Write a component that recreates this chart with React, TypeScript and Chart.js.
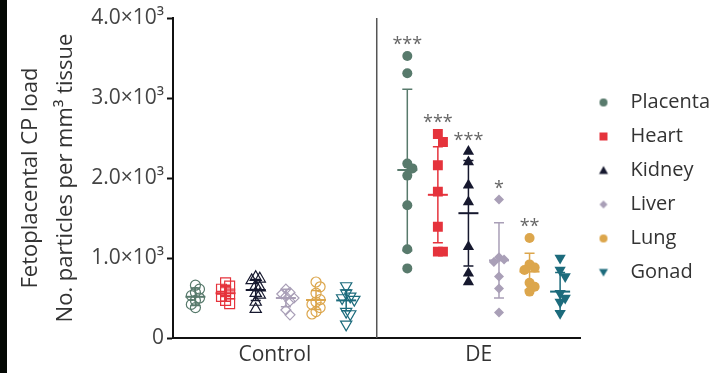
import React, { useEffect, useRef } from 'react';
import { Chart, registerables } from 'chart.js';

Chart.register(...registerables);

// ---------- data ----------
const categories = ['Control', 'DE'];
const organs = ['Placenta', 'Heart', 'Kidney', 'Liver', 'Lung', 'Gonad'];
const yTickValues = [0, 1000, 2000, 3000, 4000];
const yTickLabels = ['0', '1.0×10³', '2.0×10³', '3.0×10³', '4.0×10³'];

const placentaControl = [660, 610, 570, 530, 500, 470, 420, 380];
const heartControl = [690, 650, 610, 580, 550, 520, 470, 430];
const kidneyControl = [760, 740, 720, 650, 630, 560, 540, 450, 360];
const liverControl = [610, 570, 550, 520, 500, 460, 350, 290];
const lungControl = [700, 640, 560, 480, 450, 420, 380, 330, 300];
const gonadControl = [650, 560, 520, 500, 480, 330, 300, 170];

const placentaDE = [3525, 3310, 2180, 2120, 2030, 1660, 1110, 870];
const heartDE = [2550, 2450, 2160, 1830, 1390, 1080, 1080];
const kidneyDE = [2330, 2200, 1910, 1700, 1140, 810, 700];
const liverDE = [1730, 1010, 980, 950, 770, 620, 320];
const lungDE = [1250, 920, 880, 850, 690, 640, 580];
const gonadDE = [1000, 850, 770, 560, 500, 450, 310];

const controlMeans = [515, 560, 600, 500, 475, 470];
const controlSD = [110, 100, 130, 110, 120, 130];
const deMeans = [2100, 1790, 1560, 970, 830, 580];
const deSD = [1010, 600, 660, 470, 230, 240];
const deStars = ['***', '***', '***', '*', '**', ''];

// ---------- styles / layout ----------
const FONT = "'Open Sans', 'Noto Sans', sans-serif";
const organColors = ['#587a6c', '#e5333c', '#16182e', '#a99fb7', '#dca64c', '#1c6b7c'];
const organShapes = ['circle', 'rect', 'triangle', 'rectRot', 'circle', 'triangle'];
const organRotation = [0, 0, 0, 0, 0, 180];
const organRadius = [5, 7, 6.5, 5, 5, 6.5];
const groupStart = [0.11, 0.15];
const groupStep = [0.148, 0.15];
const LEGEND_SHIFT = -8;

function dodge(values: number[], base: number, thr: number, step: number) {
  const sorted = values.map((v, i) => ({ v, i })).sort((a, b) => b.v - a.v);
  const placed: { v: number; k: number }[] = [];
  const out: { x: number; y: number }[] = new Array(values.length);
  for (const p of sorted) {
    for (const k of [0, 1, -1, 2, -2, 3, -3]) {
      if (!placed.some((q) => q.k === k && Math.abs(q.v - p.v) < thr)) {
        placed.push({ v: p.v, k });
        out[p.i] = { x: base + k * step, y: p.v };
        break;
      }
    }
  }
  return out;
}

function makeIcon(oi: number) {
  const c = document.createElement('canvas');
  c.width = 20;
  c.height = 14;
  const g = c.getContext('2d')!;
  g.fillStyle = organColors[oi];
  g.beginPath();
  const cx = 6, cy = 7;
  const shape = organShapes[oi];
  if (shape === 'circle') {
    g.arc(cx, cy, 4, 0, Math.PI * 2);
  } else if (shape === 'rect') {
    g.rect(cx - 4, cy - 4, 8, 8);
  } else if (shape === 'rectRot') {
    g.moveTo(cx, cy - 4); g.lineTo(cx + 4, cy); g.lineTo(cx, cy + 4); g.lineTo(cx - 4, cy);
  } else if (organRotation[oi] === 180) {
    g.moveTo(cx - 4.5, cy - 3.5); g.lineTo(cx + 4.5, cy - 3.5); g.lineTo(cx, cy + 4);
  } else {
    g.moveTo(cx, cy - 4.5); g.lineTo(cx + 4.5, cy + 3.5); g.lineTo(cx - 4.5, cy + 3.5);
  }
  g.closePath();
  g.fill();
  return c;
}

const controlSeries = [placentaControl, heartControl, kidneyControl, liverControl, lungControl, gonadControl];
const deSeries = [placentaDE, heartDE, kidneyDE, liverDE, lungDE, gonadDE];

const errorBarPlugin = {
  id: 'errorBars',
  afterLayout(chart: any) {
    const l = chart.legend;
    if (l) {
      l.top += LEGEND_SHIFT;
      l.bottom += LEGEND_SHIFT;
    }
  },
  beforeDatasetsDraw(chart: any) {
    const { ctx, scales } = chart;
    const xs = scales.x, ys = scales.y;
    const sets = [
      { means: controlMeans, sds: controlSD },
      { means: deMeans, sds: deSD },
    ];
    ctx.save();
    sets.forEach((s, gi) => {
      organs.forEach((_, oi) => {
        const cx = xs.getPixelForValue(gi + groupStart[gi] + oi * groupStep[gi]);
        const m = ys.getPixelForValue(s.means[oi]);
        const top = ys.getPixelForValue(s.means[oi] + s.sds[oi]);
        const bot = ys.getPixelForValue(s.means[oi] - s.sds[oi]);
        ctx.strokeStyle = organColors[oi];
        ctx.lineWidth = 1.5;
        ctx.beginPath();
        ctx.moveTo(cx, top); ctx.lineTo(cx, bot);
        ctx.moveTo(cx - 5, top); ctx.lineTo(cx + 5, top);
        ctx.moveTo(cx - 5, bot); ctx.lineTo(cx + 5, bot);
        ctx.stroke();
        ctx.lineWidth = 2;
        ctx.beginPath();
        ctx.moveTo(cx - 10, m); ctx.lineTo(cx + 10, m);
        ctx.stroke();
      });
    });
    ctx.restore();
  },
  afterDatasetsDraw(chart: any) {
    const { ctx, scales } = chart;
    const xs = scales.x, ys = scales.y;
    ctx.save();
    ctx.fillStyle = '#666';
    ctx.font = `18px ${FONT}`;
    ctx.textAlign = 'center';
    ctx.textBaseline = 'alphabetic';
    organs.forEach((_, oi) => {
      if (!deStars[oi]) return;
      const cx = xs.getPixelForValue(1 + groupStart[1] + oi * groupStep[1]);
      const cy = ys.getPixelForValue(Math.max(...deSeries[oi])) - 16;
      ctx.fillText(deStars[oi], cx, cy + 10);
    });
    ctx.restore();
  },
};

export default function App() {
  const ref = useRef<HTMLCanvasElement>(null);
  useEffect(() => {
    if (!ref.current) return;
    const icons = organs.map((_, oi) => makeIcon(oi));
    const datasets: any[] = [
      {
        label: 'divider',
        data: [{ x: 1, y: 0 }, { x: 1, y: 4000 }],
        showLine: true,
        borderColor: '#555',
        borderWidth: 1.5,
        pointRadius: 0,
      },
    ];
    [controlSeries, deSeries].forEach((series, gi) => {
      series.forEach((vals, oi) => {
        const base = gi + groupStart[gi] + oi * groupStep[gi];
        datasets.push({
          label: `${organs[oi]} ${categories[gi]}`,
          data: gi === 0 ? dodge(vals, base, 90, 0.02) : dodge(vals, base, 110, 0.025),
          pointStyle: organShapes[oi],
          rotation: organRotation[oi],
          pointRadius: organRadius[oi],
          pointHoverRadius: organRadius[oi],
          backgroundColor: gi === 0 ? 'rgba(255,255,255,0)' : organColors[oi],
          borderColor: organColors[oi],
          borderWidth: gi === 0 ? 1.2 : 0,
        });
      });
    });

    const chart = new Chart(ref.current, {
      type: 'scatter',
      data: { datasets },
      plugins: [errorBarPlugin],
      options: {
        animation: false,
        responsive: false,
        layout: { padding: { left: 8, top: 18, right: 0, bottom: 0 } },
        plugins: {
          tooltip: { enabled: false },
          legend: {
            position: 'right',
            align: 'center',
            maxWidth: 147,
            labels: {
              usePointStyle: true,
              pointStyleWidth: 26,
              padding: 14,
              color: '#333',
              font: { family: FONT, size: 20 },
              generateLabels: () =>
                organs.map((name, oi) => ({
                  text: name,
                  pointStyle: icons[oi],
                  fillStyle: organColors[oi],
                  strokeStyle: organColors[oi],
                  lineWidth: 0,
                  hidden: false,
                  datasetIndex: 7 + oi,
                  fontColor: '#333',
                })),
            },
          },
        },
        scales: {
          x: {
            type: 'linear',
            min: 0,
            max: 2,
            afterBuildTicks: (s: any) => {
              s.ticks = [{ value: 0.5 }, { value: 1.5 }];
            },
            afterFit: (s: any) => {
              s.height = 35;
            },
            ticks: {
              callback: (_v: any, i: number) => categories[i],
              color: '#333',
              font: { family: FONT, size: 21 },
              padding: 4,
              maxRotation: 0,
              autoSkip: false,
            },
            grid: { display: false, drawTicks: false },
            border: { display: true, color: '#111', width: 2 },
          },
          y: {
            min: 0,
            max: 4000,
            afterBuildTicks: (s: any) => {
              s.ticks = yTickValues.map((v) => ({ value: v }));
            },
            afterFit: (s: any) => {
              s.width = 165;
            },
            ticks: {
              callback: (_v: any, i: number) => yTickLabels[i],
              color: '#444',
              font: { family: FONT, size: 21 },
              padding: 3,
            },
            grid: {
              display: true,
              drawOnChartArea: false,
              drawTicks: true,
              tickLength: 6,
              tickWidth: 2,
              tickColor: '#111',
            },
            border: { display: true, color: '#111', width: 2 },
            title: {
              display: true,
              text: ['Fetoplacental CP load', 'No. particles per mm³ tissue'],
              color: '#333',
              font: { family: FONT, size: 22, lineHeight: 1.6 },
              padding: { top: 5, bottom: 0 },
            },
          },
        },
      },
    } as any);
    return () => chart.destroy();
  }, []);

  return (
    <div style={{ position: 'fixed', left: 0, top: 0, width: 720, height: 373, background: '#fff' }}>
      <canvas ref={ref} width={720} height={373} style={{ position: 'absolute', left: 0, top: 0 }} />
      <div style={{ position: 'absolute', left: 0, top: 0, width: 7, height: 373, background: '#040804' }} />
    </div>
  );
}
